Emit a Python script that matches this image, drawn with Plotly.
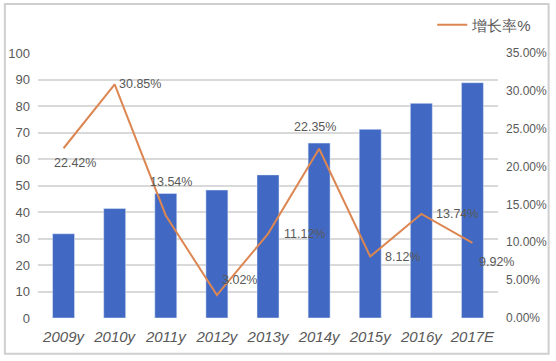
import plotly.graph_objects as go

categories = ["2009y", "2010y", "2011y", "2012y", "2013y", "2014y", "2015y", "2016y", "2017E"]
market_size = [31.8, 41.3, 47.0, 48.3, 54.0, 66.0, 71.2, 81.0, 88.8]
growth_rate = [22.42, 30.85, 13.54, 3.02, 11.12, 22.35, 8.12, 13.74, 9.92]
growth_labels = ["22.42%", "30.85%", "13.54%", "3.02%", "11.12%", "22.35%", "8.12%", "13.74%", "9.92%"]
left_ticks = list(range(0, 101, 10))
right_ticks = [0, 5, 10, 15, 20, 25, 30, 35]
right_tick_labels = ["0.00%", "5.00%", "10.00%", "15.00%", "20.00%", "25.00%", "30.00%", "35.00%"]

# label offsets (pixels) relative to each point: style only
label_dx = [11, 25, 5, 23, 36, -4, 32, 36, 24]
label_dy = [-15, 0, 33, 15, 0, 22, 0, 0, -19]

FONT = "Liberation Sans, Arial"

fig = go.Figure()
fig.add_trace(go.Bar(
    x=categories, y=market_size, marker_color="#4169C3", width=0.43,
    showlegend=False, name="市场规模"))
fig.add_trace(go.Scatter(
    x=categories, y=growth_rate, yaxis="y2", mode="lines",
    line=dict(color="#DC8652", width=2), name="增长率%"))

for cat, val, lab, dx, dy in zip(categories, growth_rate, growth_labels, label_dx, label_dy):
    fig.add_annotation(x=cat, y=val, xref="x", yref="y2", text=lab, showarrow=False,
                       xshift=dx, yshift=dy,
                       font=dict(family=FONT, size=12.5, color="#595959"))

fig.update_layout(
    width=556, height=361,
    margin=dict(l=38, r=58, t=53, b=43, autoexpand=False),
    paper_bgcolor="white", plot_bgcolor="white",
    font=dict(family=FONT, color="#595959"),
    xaxis=dict(showgrid=False, showline=False, ticks="", automargin=False,
               range=[-0.5, len(categories) - 0.5],
               tickfont=dict(size=15, style="italic", color="#595959"),
               ticklabelstandoff=8),
    yaxis=dict(range=[0, 100], tickvals=left_ticks, showgrid=True, gridcolor="#D9D9D9",
               gridwidth=1.5, zeroline=False, showline=False, automargin=False,
               tickfont=dict(size=13, color="#595959"), ticklabelstandoff=7),
    yaxis2=dict(range=[0, 35], tickvals=right_ticks, ticktext=right_tick_labels,
                overlaying="y", side="right", showgrid=False, zeroline=False, automargin=False,
                tickfont=dict(size=12, color="#595959"), ticklabelstandoff=7),
    legend=dict(x=0.857, y=1.106, xanchor="left", yanchor="middle",
                font=dict(size=15, color="#595959"), bgcolor="rgba(0,0,0,0)"),
    bargap=0.57,
)

fig.add_shape(type="rect", xref="paper", yref="paper",
              x0=-0.072, x1=1.11, y0=-0.135, y1=1.185,
              line=dict(color="#CFCFCF", width=2), fillcolor="rgba(0,0,0,0)", layer="below")

fig.write_html("out.html", config={"displayModeBar": False},
               post_script="document.body.style.margin='0';")
